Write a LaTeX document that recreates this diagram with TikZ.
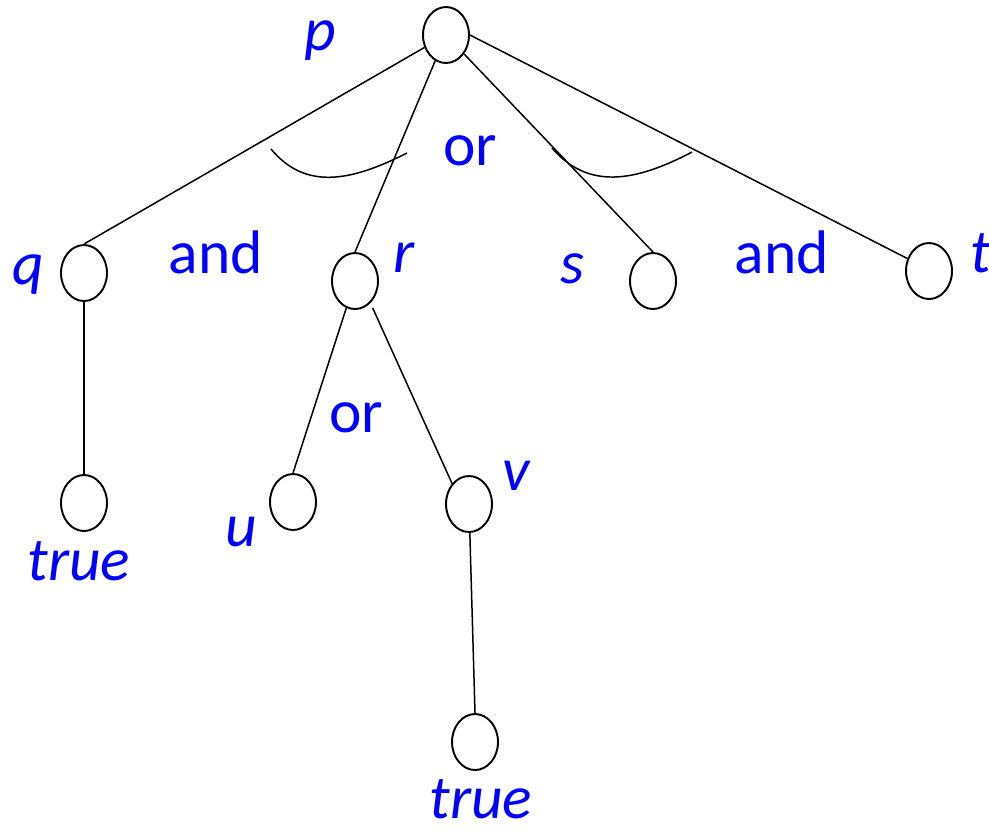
\documentclass[tikz,border=0pt]{standalone}
\usepackage{fontspec}
\setmainfont{Carlito}
\usetikzlibrary{shapes.geometric}

\begin{document}
\begin{tikzpicture}[x=0.02cm, y=-0.02cm,
  goal/.style={draw, ellipse, line width=1.1pt, minimum width=0.92cm,
    minimum height=1.12cm, inner sep=0pt},
  link/.style={line width=0.85pt},
  var/.style={text=blue, font=\fontsize{35}{40}\selectfont\itshape,
    anchor=base, inner sep=0pt},
  conn/.style={text=blue, font=\fontsize{35}{40}\selectfont,
    anchor=base, inner sep=0pt}]
  \useasboundingbox (0,0) rectangle (989,833);

  \node[goal] (p) at (446,35) {};
  \node[goal] (q) at (84,273) {};
  \node[goal] (r) at (355,281) {};
  \node[goal] (s) at (653,281) {};
  \node[goal] (t) at (929,271) {};
  \node[goal] (tq) at (84,503) {};
  \node[goal] (u) at (293,502) {};
  \node[goal] (v) at (469,504) {};
  \node[goal] (tv) at (475,742) {};

  \draw[link] (p) -- (q.north);
  \draw[link] (p) -- (r.north);
  \draw[link] (p) -- (s.north);
  \draw[link] (p.east) -- (t.150);
  \draw[link] (q) -- (tq);
  \draw[link] (r) -- (u.north);
  \draw[link, shorten <=3pt] (r.-55) -- (v.north west);
  \draw[link] (v) -- (tv.north);

  \draw[link] (271,149) .. controls (305,190) and (350,182) .. (407,153);
  \draw[link] (552,148) .. controls (588,190) and (635,182) .. (692,152);

  \node[var] (lp) at (320,50) {p};
  \node[var] (lq) at (28,284) {q};
  \node[var] (lr) at (404,272) {r};
  \node[var] (ls) at (572,283) {s};
  \node[var] (lt) at (981,272) {t};
  \node[var] (lu) at (241,546) {u};
  \node[var] (lv) at (516,490) {v};
  \node[var] (ltq) at (79,580) {true};
  \node[var] (ltv) at (481,818) {true};

  \node[conn] (or1) at (470,165) {or};
  \node[conn] (and1) at (216,273) {and};
  \node[conn] (and2) at (782,273) {and};
  \node[conn] (or2) at (356,432) {or};
\end{tikzpicture}
\end{document}
